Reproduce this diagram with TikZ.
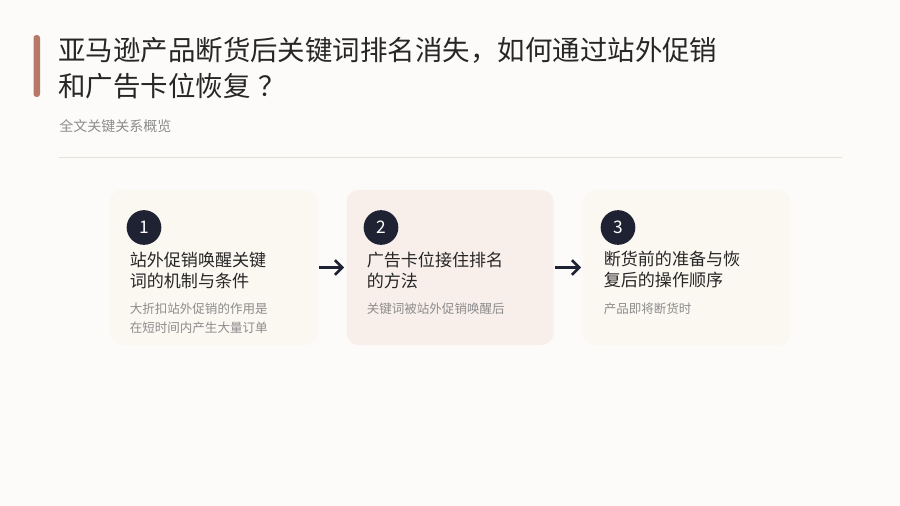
\documentclass[tikz,border=0pt]{standalone}
\usepackage{fontspec}
\newfontfamily\cjk{Noto Sans CJK SC}
\usetikzlibrary{arrows.meta}
\definecolor{bg}{HTML}{FCFBF9}
\definecolor{accent}{HTML}{B87868}
\definecolor{titlec}{HTML}{262626}
\definecolor{subc}{HTML}{8C8C8C}
\definecolor{rulec}{HTML}{E6E2DA}
\definecolor{cardA}{HTML}{FBF8F2}
\definecolor{cardB}{HTML}{F8EFEB}
\definecolor{navy}{HTML}{1E2233}
\begin{document}
\begin{tikzpicture}[x=0.75pt,y=-0.75pt,
  card/.style={rounded corners=9pt, minimum width=155.25pt, minimum height=116.25pt, inner sep=0pt},
  numc/.style={circle, fill=navy, minimum size=26pt, inner sep=0pt, text=white, font=\cjk\fontsize{13}{15}\selectfont},
  ctitle/.style={anchor=west, inner sep=0pt, align=left, text=titlec, font=\cjk\fontsize{12.8}{15.75}\selectfont},
  cdesc/.style={anchor=west, inner sep=0pt, align=left, text=subc, font=\cjk\fontsize{9.4}{13.9}\selectfont},
  flow/.style={draw=navy, line width=2pt, -{Straight Barb[length=5.5pt,width=11pt]}, shorten <=1pt, shorten >=1.5pt}
]
\path[fill=bg] (0,0) rectangle (900,506);
\useasboundingbox (0,0) rectangle (900,506);
% header
\path[fill=accent, rounded corners=2.2pt] (33.5,35) rectangle (40,97);
\node[anchor=west, inner sep=0pt, align=left, text=titlec, font=\cjk\fontsize{20.6}{27}\selectfont] (title) at (58,68.5) {亚马逊产品断货后关键词排名消失，如何通过站外促销\\和广告卡位恢复\kern6pt？};
\node[anchor=west, inner sep=0pt, text=subc, font=\cjk\fontsize{10.5}{12}\selectfont] (sub) at (59,126.5) {全文关键关系概览};
\draw[rulec, line width=1.1pt] (59,157.5) coordinate (r1) -- (842,157.5) coordinate (r2);
% cards
\node[card, fill=cardA] (c1) at (213.5,267.5) {};
\node[card, fill=cardB] (c2) at (450,267.5) {};
\node[card, fill=cardA] (c3) at (687,267.5) {};
\node[numc] (n1) at (144,227.5) {1};
\node[numc] (n2) at (381,227.5) {2};
\node[numc] (n3) at (618,227.5) {3};
\node[ctitle] (t1) at (129.5,270) {站外促销唤醒关键\\词的机制与条件};
\node[ctitle] (t2) at (366.5,270) {广告卡位接住排名\\的方法};
\node[ctitle] (t3) at (603.5,270) {断货前的准备与恢\\复后的操作顺序};
\node[cdesc] (d1) at (129.5,318.2) {大折扣站外促销的作用是\\在短时间内产生大量订单};
\node[cdesc] (d2) at (366.5,309) {关键词被站外促销唤醒后};
\node[cdesc] (d3) at (603.5,309) {产品即将断货时};
\draw[flow] (c1.east) -- (c2.west);
\draw[flow] (c2.east) -- (c3.west);
\end{tikzpicture}
\end{document}
